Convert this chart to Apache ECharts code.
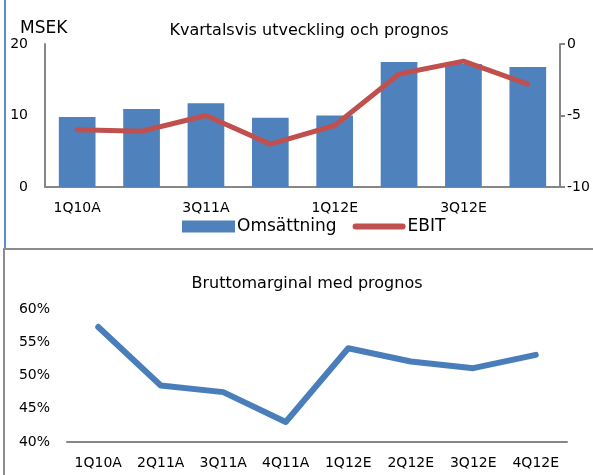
<!DOCTYPE html>
<html>
<head>
<meta charset="utf-8">
<script src="https://cdn.jsdelivr.net/npm/echarts@6/dist/echarts.min.js"></script>
<style>
  html, body { margin: 0; padding: 0; background: #fff; }
  #chart { width: 593px; height: 475px; }
</style>
</head>
<body>
<div id="chart"></div>
<script>
// Quarterly data
const quarters = ["1Q10A", "2Q11A", "3Q11A", "4Q11A", "1Q12E", "2Q12E", "3Q12E", "4Q12E"];
const omsattning = [9.8, 10.9, 11.7, 9.7, 10.0, 17.5, 17.2, 16.8];
const ebit = [-6.0, -6.1, -5.0, -7.0, -5.7, -2.1, -1.2, -2.8];
const bruttomarginal = [57.3, 48.5, 47.5, 43.0, 54.1, 52.1, 51.1, 53.1];

const font = "DejaVu Sans";
const axisGray = "#868686";

const chart = echarts.init(document.getElementById("chart"));

const option = {
    animation: false,
    textStyle: { fontFamily: font, color: "#000" },
    title: [
        {
            text: "Kvartalsvis utveckling och prognos",
            left: 304, top: 18, textAlign: "center",
            textStyle: { fontFamily: font, fontSize: 16, fontWeight: "normal", color: "#000" }
        },
        {
            text: "MSEK",
            left: 15, top: 15,
            textStyle: { fontFamily: font, fontSize: 17, fontWeight: "normal", color: "#000" }
        },
        {
            text: "Bruttomarginal med prognos",
            left: 302, top: 271, textAlign: "center",
            textStyle: { fontFamily: font, fontSize: 16, fontWeight: "normal", color: "#000" }
        }
    ],
    legend: {
        left: 177, top: 213,
        itemWidth: 53, itemHeight: 12, itemGap: 16,
        textStyle: { fontFamily: font, fontSize: 17, color: "#000", padding: [0, 0, 0, -3] },
        data: [
            { name: "Omsättning", icon: "rect" },
            { name: "EBIT", icon: "path://M3,0 L52,0 A3,3 0 0 1 52,6 L3,6 A3,3 0 0 1 3,0 Z" }
        ]
    },
    grid: [
        { left: 45, right: 33, top: 44, height: 143 },
        { left: 67, right: 26, top: 309, height: 133 }
    ],
    xAxis: [
        {
            type: "category", gridIndex: 0, data: quarters,
            axisLine: { lineStyle: { color: axisGray, width: 2 } },
            axisTick: { show: false },
            axisLabel: { interval: 1, margin: 14, fontFamily: font, fontSize: 14, color: "#000" }
        },
        {
            type: "category", gridIndex: 1, data: quarters,
            axisLine: { lineStyle: { color: axisGray, width: 2 } },
            axisTick: { show: false },
            axisLabel: { interval: 0, margin: 14, fontFamily: font, fontSize: 14, color: "#000" }
        }
    ],
    yAxis: [
        {
            type: "value", gridIndex: 0, min: 0, max: 20, interval: 10,
            axisLine: { show: true, lineStyle: { color: axisGray, width: 2 } },
            axisTick: { show: false },
            splitLine: { show: false },
            axisLabel: { margin: 17, fontFamily: font, fontSize: 14, color: "#000" }
        },
        {
            type: "value", gridIndex: 0, position: "right", min: -10, max: 0, interval: 5,
            axisLine: { show: true, lineStyle: { color: axisGray, width: 2 } },
            axisTick: { show: true, length: 5, lineStyle: { color: axisGray, width: 2 } },
            splitLine: { show: false },
            axisLabel: { margin: 7, fontFamily: font, fontSize: 14, color: "#000" }
        },
        {
            type: "value", gridIndex: 1, min: 40, max: 60, interval: 5,
            axisLine: { show: false },
            axisTick: { show: false },
            splitLine: { show: false },
            axisLabel: { margin: 17, fontFamily: font, fontSize: 14, color: "#000", formatter: "{value}%" }
        }
    ],
    series: [
        {
            name: "Omsättning", type: "bar",
            xAxisIndex: 0, yAxisIndex: 0,
            data: omsattning,
            barWidth: "57%",
            itemStyle: { color: "#4f81bd" }
        },
        {
            name: "EBIT", type: "line",
            xAxisIndex: 0, yAxisIndex: 1,
            data: ebit,
            showSymbol: false,
            lineStyle: { color: "#c0504d", width: 5, cap: "round", join: "round" },
            itemStyle: { color: "#c0504d" }
        },
        {
            name: "Bruttomarginal", type: "line",
            xAxisIndex: 1, yAxisIndex: 2,
            data: bruttomarginal,
            showSymbol: false,
            lineStyle: { color: "#4a7ebb", width: 6, cap: "round", join: "round" }
        }
    ],
    graphic: [
        // blue frame edge of the upper chart
        { type: "line", shape: { x1: 5, y1: 0, x2: 5, y2: 249 }, style: { stroke: "#5b8bd0", lineWidth: 2 } },
        // gray box around the lower chart
        { type: "rect", shape: { x: 4, y: 249, width: 600, height: 240 }, style: { fill: "none", stroke: "#8c8c8c", lineWidth: 2 } }
    ]
};

chart.setOption(option);
</script>
</body>
</html>
